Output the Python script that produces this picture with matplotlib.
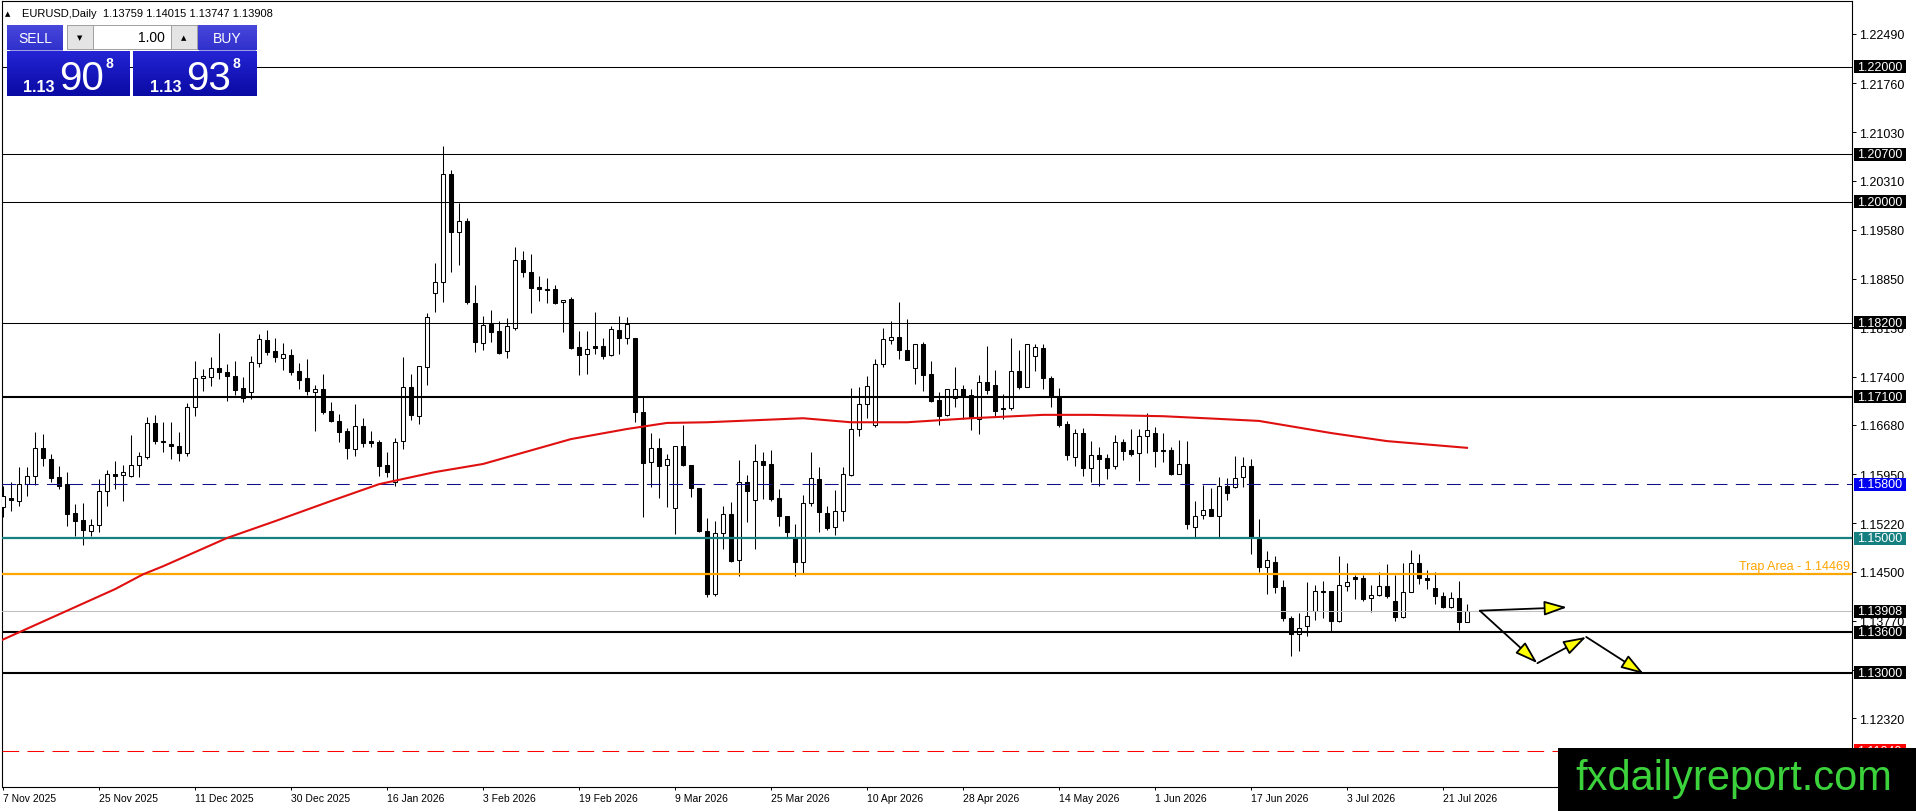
import numpy as np
import matplotlib
matplotlib.use('Agg')
import matplotlib.pyplot as plt
from matplotlib import font_manager
from matplotlib.patches import Rectangle, FancyArrowPatch
from matplotlib.colors import LinearSegmentedColormap

plt.rcParams['font.family'] = ['Liberation Sans', 'DejaVu Sans']
plt.rcParams['lines.scale_dashes'] = False

# EURUSD daily bars, oldest first
opens = [
    1.1546, 1.1559, 1.1555, 1.1580, 1.1592, 1.1634, 1.1617, 1.1591, 1.1580, 1.1537,
    1.1527, 1.1511, 1.1520, 1.1570, 1.1595, 1.1594, 1.1592, 1.1608, 1.1620, 1.1671,
    1.1644, 1.1640, 1.1637, 1.1626, 1.1695, 1.1738, 1.1739, 1.1753, 1.1747, 1.1741,
    1.1723, 1.1717, 1.1760, 1.1794, 1.1778, 1.1768, 1.1772, 1.1748, 1.1738, 1.1717,
    1.1721, 1.1689, 1.1674, 1.1659, 1.1632, 1.1666, 1.1644, 1.1643, 1.1608, 1.1583,
    1.1644, 1.1724, 1.1681, 1.1754, 1.1864, 1.1880, 1.2041, 1.1955, 1.1971, 1.1849,
    1.1790, 1.1818, 1.1808, 1.1778, 1.1812, 1.1913, 1.1895, 1.1873, 1.1870, 1.1870,
    1.1851, 1.1855, 1.1784, 1.1773, 1.1785, 1.1785, 1.1772, 1.1809, 1.1797, 1.1797,
    1.1687, 1.1613, 1.1634, 1.1608, 1.1545, 1.1637, 1.1608, 1.1574, 1.1511, 1.1417,
    1.1508, 1.1536, 1.1467, 1.1583, 1.1557, 1.1614, 1.1610, 1.1559, 1.1533, 1.1500,
    1.1464, 1.1552, 1.1588, 1.1537, 1.1517, 1.1540, 1.1594, 1.1662, 1.1699, 1.1668,
    1.1759, 1.1794, 1.1799, 1.1779, 1.1753, 1.1788, 1.1744, 1.1705, 1.1683, 1.1708,
    1.1721, 1.1712, 1.1677, 1.1732, 1.1727, 1.1693, 1.1693, 1.1748, 1.1724, 1.1770,
    1.1782, 1.1738, 1.1710, 1.1669, 1.1620, 1.1656, 1.1604, 1.1623, 1.1619, 1.1607,
    1.1643, 1.1631, 1.1626, 1.1652, 1.1656, 1.1631, 1.1631, 1.1595, 1.1610, 1.1517,
    1.1534, 1.1543, 1.1533, 1.1577, 1.1576, 1.1591, 1.1607, 1.1499, 1.1457, 1.1464,
    1.1427, 1.1381, 1.1357, 1.1369, 1.1392, 1.1420, 1.1421, 1.1377, 1.1429, 1.1442,
    1.1441, 1.1411, 1.1415, 1.1429, 1.1406, 1.1383, 1.1420, 1.1463, 1.1441, 1.1426,
    1.1414, 1.1397, 1.1411, 1.13759,
]
highs = [
    1.1577, 1.1583, 1.1605, 1.1605, 1.1658, 1.1655, 1.1625, 1.1607, 1.1598, 1.1551,
    1.1552, 1.1528, 1.1588, 1.1601, 1.1614, 1.1608, 1.1653, 1.1628, 1.1680, 1.1683,
    1.1672, 1.1672, 1.1658, 1.1701, 1.1763, 1.1751, 1.1769, 1.1805, 1.1759, 1.1763,
    1.1739, 1.1770, 1.1803, 1.1809, 1.1797, 1.1790, 1.1781, 1.1760, 1.1766, 1.1727,
    1.1744, 1.1702, 1.1684, 1.1663, 1.1699, 1.1678, 1.1659, 1.1646, 1.1628, 1.1649,
    1.1769, 1.1744, 1.1756, 1.1834, 1.1909, 1.2083, 1.2047, 1.1998, 1.1976, 1.1876,
    1.1830, 1.1839, 1.1823, 1.1827, 1.1932, 1.1926, 1.1922, 1.1889, 1.1886, 1.1876,
    1.1854, 1.1858, 1.1808, 1.1808, 1.1836, 1.1797, 1.1815, 1.1830, 1.1828, 1.1797,
    1.1710, 1.1656, 1.1649, 1.1625, 1.1637, 1.1668, 1.1608, 1.1574, 1.1530, 1.1525,
    1.1548, 1.1554, 1.1616, 1.1594, 1.1640, 1.1628, 1.1631, 1.1573, 1.1533, 1.1521,
    1.1564, 1.1628, 1.1605, 1.1548, 1.1571, 1.1605, 1.1723, 1.1724, 1.1741, 1.1766,
    1.1812, 1.1823, 1.1851, 1.1826, 1.1788, 1.1791, 1.1763, 1.1717, 1.1721, 1.1754,
    1.1727, 1.1721, 1.1742, 1.1785, 1.1750, 1.1714, 1.1797, 1.1779, 1.1788, 1.1788,
    1.1788, 1.1741, 1.1723, 1.1674, 1.1662, 1.1663, 1.1644, 1.1635, 1.1625, 1.1653,
    1.1647, 1.1662, 1.1662, 1.1686, 1.1665, 1.1656, 1.1635, 1.1646, 1.1644, 1.1555,
    1.1579, 1.1574, 1.1591, 1.1589, 1.1622, 1.1620, 1.1617, 1.1528, 1.1481, 1.1473,
    1.1438, 1.1384, 1.1389, 1.1435, 1.1430, 1.1436, 1.1421, 1.1473, 1.1463, 1.1445,
    1.1445, 1.1430, 1.1449, 1.1461, 1.1445, 1.1463, 1.1482, 1.1476, 1.1452, 1.1449,
    1.1420, 1.1420, 1.1436, 1.14015,
]
lows = [
    1.1531, 1.1540, 1.1548, 1.1562, 1.1579, 1.1607, 1.1583, 1.1573, 1.1518, 1.1503,
    1.1490, 1.1503, 1.1509, 1.1548, 1.1573, 1.1555, 1.1591, 1.1591, 1.1617, 1.1640,
    1.1628, 1.1617, 1.1614, 1.1622, 1.1681, 1.1718, 1.1726, 1.1736, 1.1704, 1.1712,
    1.1702, 1.1707, 1.1754, 1.1772, 1.1762, 1.1750, 1.1742, 1.1721, 1.1712, 1.1659,
    1.1684, 1.1672, 1.1643, 1.1617, 1.1622, 1.1635, 1.1635, 1.1592, 1.1591, 1.1577,
    1.1632, 1.1675, 1.1669, 1.1727, 1.1836, 1.1851, 1.1895, 1.1906, 1.1848, 1.1776,
    1.1779, 1.1791, 1.1773, 1.1768, 1.1809, 1.1888, 1.1834, 1.1852, 1.1849, 1.1848,
    1.1806, 1.1781, 1.1742, 1.1744, 1.1773, 1.1766, 1.1770, 1.1773, 1.1788, 1.1672,
    1.1531, 1.1576, 1.1559, 1.1546, 1.1506, 1.1607, 1.1561, 1.1509, 1.1412, 1.1414,
    1.1484, 1.1464, 1.1444, 1.1524, 1.1484, 1.1558, 1.1555, 1.1518, 1.1502, 1.1444,
    1.1448, 1.1548, 1.1509, 1.1512, 1.1505, 1.1525, 1.1592, 1.1652, 1.1678, 1.1665,
    1.1754, 1.1788, 1.1766, 1.1765, 1.1729, 1.1718, 1.1702, 1.1668, 1.1681, 1.1695,
    1.1677, 1.1661, 1.1655, 1.1714, 1.1681, 1.1677, 1.1690, 1.1721, 1.1724, 1.1748,
    1.1721, 1.1695, 1.1665, 1.1616, 1.1607, 1.1592, 1.1583, 1.1577, 1.1588, 1.1603,
    1.1616, 1.1622, 1.1585, 1.1626, 1.1605, 1.1613, 1.1594, 1.1595, 1.1513, 1.1502,
    1.1528, 1.1533, 1.1502, 1.1557, 1.1574, 1.1576, 1.1476, 1.1449, 1.1417, 1.1418,
    1.1377, 1.1325, 1.1332, 1.1354, 1.1378, 1.1381, 1.1360, 1.1375, 1.1421, 1.1409,
    1.1406, 1.1390, 1.1414, 1.1411, 1.1377, 1.1381, 1.1420, 1.1432, 1.1424, 1.1402,
    1.1396, 1.1396, 1.1363, 1.13747,
]
closes = [
    1.1562, 1.1557, 1.1580, 1.1592, 1.1634, 1.1619, 1.1589, 1.1577, 1.1536, 1.1525,
    1.1512, 1.1520, 1.1570, 1.1595, 1.1592, 1.1598, 1.1608, 1.1622, 1.1671, 1.1644,
    1.1643, 1.1637, 1.1626, 1.1695, 1.1738, 1.1741, 1.1753, 1.1747, 1.1741, 1.1720,
    1.1708, 1.1762, 1.1796, 1.1776, 1.1769, 1.1773, 1.1747, 1.1735, 1.1718, 1.1721,
    1.1687, 1.1674, 1.1658, 1.1634, 1.1666, 1.1641, 1.1641, 1.1607, 1.1598, 1.1643,
    1.1724, 1.1683, 1.1756, 1.1828, 1.1880, 1.2041, 1.1955, 1.1971, 1.1851, 1.1791,
    1.1817, 1.1806, 1.1775, 1.1815, 1.1913, 1.1895, 1.1872, 1.1870, 1.1869, 1.1849,
    1.1854, 1.1782, 1.1772, 1.1781, 1.1782, 1.1770, 1.1811, 1.1797, 1.1818, 1.1687,
    1.1611, 1.1634, 1.1607, 1.1617, 1.1637, 1.1608, 1.1574, 1.1511, 1.1417, 1.1508,
    1.1536, 1.1466, 1.1583, 1.1570, 1.1614, 1.1608, 1.1558, 1.1533, 1.1509, 1.1464,
    1.1552, 1.1589, 1.1539, 1.1515, 1.1540, 1.1595, 1.1662, 1.1699, 1.1726, 1.1759,
    1.1796, 1.1799, 1.1779, 1.1765, 1.1788, 1.1742, 1.1704, 1.1681, 1.1721, 1.1721,
    1.1710, 1.1678, 1.1732, 1.1720, 1.1689, 1.1692, 1.1748, 1.1724, 1.1788, 1.1784,
    1.1738, 1.1711, 1.1668, 1.1623, 1.1656, 1.1604, 1.1623, 1.1617, 1.1604, 1.1643,
    1.1629, 1.1625, 1.1652, 1.1661, 1.1629, 1.1629, 1.1595, 1.1610, 1.1521, 1.1533,
    1.1542, 1.1533, 1.1577, 1.1567, 1.1589, 1.1607, 1.1502, 1.1457, 1.1467, 1.1427,
    1.1381, 1.1357, 1.1366, 1.1384, 1.1421, 1.1421, 1.1377, 1.1430, 1.1435, 1.1439,
    1.1409, 1.1415, 1.1429, 1.1414, 1.1383, 1.1420, 1.1463, 1.1441, 1.1438, 1.1414,
    1.1397, 1.1411, 1.1375, 1.13908,
]

date_bars = [0, 12, 24, 36, 48, 60, 72, 84, 96, 108, 120, 132, 144, 156, 168, 180]
date_labels = ['7 Nov 2025', '25 Nov 2025', '11 Dec 2025', '30 Dec 2025', '16 Jan 2026',
               '3 Feb 2026', '19 Feb 2026', '9 Mar 2026', '25 Mar 2026', '10 Apr 2026',
               '28 Apr 2026', '14 May 2026', '1 Jun 2026', '17 Jun 2026', '3 Jul 2026',
               '21 Jul 2026']

price_ticks = [1.22490, 1.21760, 1.21030, 1.20310, 1.19580, 1.18850, 1.18130, 1.17400,
               1.16680, 1.15950, 1.15220, 1.14500, 1.13770, 1.13040, 1.12320]

# moving average, sampled along the red curve
ma_bars = [-0.4, 14, 17.5, 20, 28, 34, 41, 47, 54, 60, 71, 78, 83, 88, 100, 106, 113, 121,
           130, 136, 145, 152, 157, 161, 166, 173, 183]
ma_vals = [1.1347, 1.1424, 1.1446, 1.1458, 1.1500, 1.1525, 1.1555, 1.1580, 1.1598, 1.1610,
           1.1647, 1.1662, 1.1671, 1.1672, 1.1678, 1.1672, 1.1672, 1.1678, 1.1683,
           1.1683, 1.1681, 1.1677, 1.1674, 1.1666, 1.1656, 1.1644, 1.1634]

# horizontal levels
levels = [1.22, 1.207, 1.20, 1.182, 1.171, 1.158, 1.15, 1.14469, 1.13908, 1.136, 1.13, 1.1184]
level_colors = ['black', 'black', 'black', 'black', 'black', '#10108c', '#168080',
                '#ffa500', '#c0c0c0', 'black', 'black', '#ff0000']
level_widths = [0.75, 0.75, 0.75, 0.75, 1.5, 0.75, 1.6, 1.6, 0.75, 1.5, 1.5, 0.75]
level_styles = ['-', '-', '-', '-', '-', (0, (10, 6)), '-', '-', '-', '-', '-', (0, (12, 6))]
box_colors = ['black', 'black', 'black', 'black', 'black', '#0000f0', '#168080',
              None, 'black', 'black', 'black', '#ff0000']

# projection arrows (bar, price)
flat_bars = [184.6, 195.5]
flat_vals = [1.1392, 1.1397]
zig_bars = [184.6, 191.8, 197.9, 205.1]
zig_vals = [1.1392, 1.1314, 1.1353, 1.1298]

W, H = 1916, 812
fig = plt.figure(figsize=(W / 100, H / 100), dpi=100)
fig.patch.set_facecolor('white')
ax = fig.add_axes([2 / W, 24 / H, 1850 / W, 786 / H])
ax.set_xlim(-0.125, -0.125 + 1850 / 8)
ax.set_ylim(1.1130, 1.2298)

o = np.array(opens)
h = np.array(highs)
l = np.array(lows)
c = np.array(closes)
x = np.arange(len(o))
up = c >= o
body_lo = np.minimum(o, c)
body_h = np.maximum(np.abs(c - o), 0.00002)

ax.vlines(x, l, h, color='black', lw=0.75, zorder=3)
ax.bar(x[up], body_h[up], 0.6, bottom=body_lo[up], facecolor='white',
       edgecolor='black', lw=0.75, zorder=4)
ax.bar(x[~up], body_h[~up], 0.6, bottom=body_lo[~up], facecolor='black',
       edgecolor='black', lw=0.75, zorder=4)

for lv, col, lw, ls in zip(levels, level_colors, level_widths, level_styles):
    ax.axhline(lv, color=col, lw=lw, linestyle=ls, zorder=5)

ax.plot(ma_bars, ma_vals, color='#e01010', lw=1.5, zorder=6)

def arrow(p0, p1):
    a = FancyArrowPatch(p0, p1, arrowstyle='-|>,head_length=14,head_width=4.5',
                        mutation_scale=1, shrinkA=0, shrinkB=0, lw=1.3,
                        edgecolor='black', facecolor='#ffff00', zorder=7,
                        clip_on=False)
    ax.add_patch(a)

arrow((flat_bars[0], flat_vals[0]), (flat_bars[1], flat_vals[1]))
for k in range(len(zig_bars) - 1):
    arrow((zig_bars[k], zig_vals[k]), (zig_bars[k + 1], zig_vals[k + 1]))

# axes styling, MT4 like
for sp in ax.spines.values():
    sp.set_color('black')
    sp.set_linewidth(0.8)
ax.yaxis.tick_right()
ax.set_yticks(price_ticks)
ax.set_yticklabels([f'{v:.5f}' for v in price_ticks])
ax.tick_params(axis='y', direction='out', length=3, width=0.7, pad=2, labelsize=9)
ax.set_xticks(date_bars)
ax.set_xticklabels(date_labels, ha='left')
ax.tick_params(axis='x', direction='out', length=2.5, width=0.7, pad=1.5, labelsize=7.5)

# overlay in pixel coordinates
ov = fig.add_axes([0, 0, 1, 1], zorder=10)
ov.patch.set_visible(False)
ov.axis('off')

def ypix(v):
    return H - ax.transData.transform((0, v))[1]

for lv, bc in zip(levels, box_colors):
    if bc is None:
        continue
    yp = ypix(lv)
    ov.add_patch(Rectangle((1854, yp - 6.5), 52, 13, facecolor=bc, edgecolor='none', zorder=2))
    ov.text(1857, yp, f'{lv:.5f}', color='white', fontsize=9, va='center', ha='left', zorder=3)

ov.text(1850, ypix(1.14469) - 1.5, 'Trap Area - 1.14469', color='#ffa500', fontsize=9,
        ha='right', va='bottom', zorder=3)

# header
ov.text(8, 14, '\u25b2', fontsize=5, va='center', ha='center', family=['DejaVu Sans'])
ov.text(22, 14, 'EURUSD,Daily  1.13759 1.14015 1.13747 1.13908', fontsize=8, va='center')

# one click trading panel
def grad_box(x0, y0, w, hh, top, bottom):
    cmap = LinearSegmentedColormap.from_list('g', [top, bottom])
    ov.imshow(np.linspace(0, 1, 40).reshape(-1, 1), cmap=cmap, aspect='auto',
              extent=[x0, x0 + w, y0 + hh, y0], zorder=4, interpolation='bilinear')

grad_box(7, 26, 56, 25, '#4848dc', '#3030cc')
grad_box(197, 26, 60, 25, '#4848dc', '#3030cc')
grad_box(7, 52, 123, 45, '#2424d4', '#0a0aa4')
grad_box(133, 52, 124, 45, '#2424d4', '#0a0aa4')
ov.plot([10, 62], [51, 51], color='#9a9ae8', lw=0.7, zorder=5)
ov.plot([199, 255], [51, 51], color='#9a9ae8', lw=0.7, zorder=5)
ov.add_patch(Rectangle((67, 26), 130, 24, facecolor='white', edgecolor='#a0a0a0', lw=0.7, zorder=4))
ov.add_patch(Rectangle((67, 26), 26, 24, facecolor='#e4e4e4', edgecolor='#a0a0a0', lw=0.7, zorder=5))
ov.add_patch(Rectangle((171, 26), 26, 24, facecolor='#e4e4e4', edgecolor='#a0a0a0', lw=0.7, zorder=5))
ov.text(80, 38, '\u25bc', fontsize=5, ha='center', va='center', zorder=6, family=['DejaVu Sans'])
ov.text(184, 38, '\u25b2', fontsize=5, ha='center', va='center', zorder=6, family=['DejaVu Sans'])
ov.text(165, 38, '1.00', fontsize=10, ha='right', va='center', zorder=6)
ov.text(35, 39, 'SELL', fontsize=10, color='white', ha='center', va='center', zorder=6)
ov.text(227, 39, 'BUY', fontsize=10, color='white', ha='center', va='center', zorder=6)

names = {f.name for f in font_manager.fontManager.ttflist}
big_font = 'Liberation Sans Narrow' if 'Liberation Sans Narrow' in names else 'Liberation Sans'
for cx, big in [(0, '90'), (127, '93')]:
    ov.text(39 + cx, 87, '1.13', fontsize=11.5, fontweight='bold', color='white',
            ha='center', va='center', zorder=6)
    ov.text(82 + cx, 79, big, fontsize=29, color='white', ha='center', va='center',
            zorder=6, family=[big_font])
    ov.text(109 + cx, 64, '8', fontsize=10, fontweight='bold', color='white',
            ha='center', va='center', zorder=6)

# watermark
ov.add_patch(Rectangle((1558, 749), 358, 63, facecolor='black', edgecolor='none', zorder=8))
ov.text(1575, 790, 'fxdailyreport.com', fontsize=30, color='#3cd23c', ha='left',
        va='baseline', zorder=9)

ov.set_xlim(0, W)
ov.set_ylim(H, 0)

fig.savefig('out.png', dpi=100, facecolor='white')
